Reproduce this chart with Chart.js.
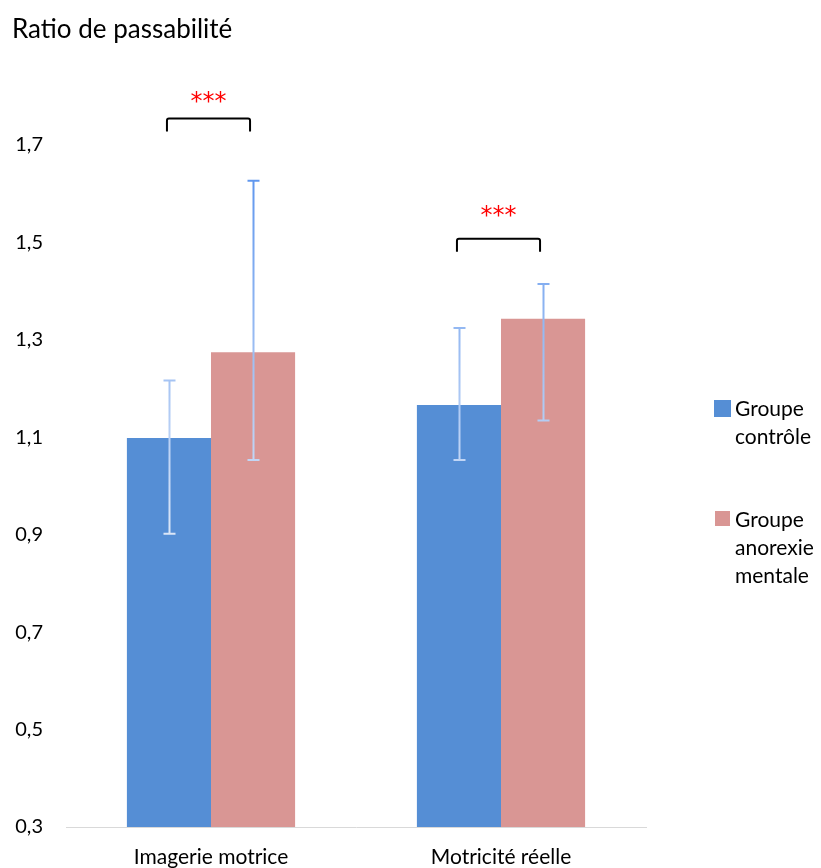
<!DOCTYPE html>
<html>
<head>
<meta charset="utf-8">
<script src="https://cdn.jsdelivr.net/npm/chart.js@4"></script>
<style>
  html, body { margin: 0; padding: 0; background: #fff; }
  #wrap { width: 821px; height: 868px; }
</style>
</head>
<body>
<div id="wrap"><canvas id="myChart" width="821" height="868"></canvas></div>
<script>
const categories = ['Imagerie motrice', 'Motricité réelle'];
const seriesNames = [['Groupe', 'contrôle'], ['Groupe', 'anorexie', 'mentale']];
const controlValues = [1.098, 1.166];
const anorexiaValues = [1.274, 1.343];
const controlUpper = [1.216, 1.324];
const controlLower = [0.902, 1.053];
const anorexiaUpper = [1.626, 1.414];
const anorexiaLower = [1.053, 1.134];
const yTicks = [0.3, 0.5, 0.7, 0.9, 1.1, 1.3, 1.5, 1.7];
const bracketLevels = [1.754, 1.507];
const starLevels = [1.797, 1.563];

const FONT = 'Lato';

// error bars with a blue -> white gradient, like the original
const errorBarsPlugin = {
    id: 'errorBars',
    afterDatasetsDraw(chart) {
        const ctx = chart.ctx;
        const y = chart.scales.y;
        const grad = ctx.createLinearGradient(0, 170, 0, 560);
        grad.addColorStop(0, '#5d95ee');
        grad.addColorStop(1, '#e4ecf8');
        const bounds = [[controlUpper, controlLower], [anorexiaUpper, anorexiaLower]];
        ctx.save();
        ctx.strokeStyle = grad;
        ctx.lineWidth = 2;
        chart.data.datasets.forEach((ds, di) => {
            const meta = chart.getDatasetMeta(di);
            meta.data.forEach((bar, i) => {
                const x = Math.round(bar.x) + 0.5;
                const top = y.getPixelForValue(bounds[di][0][i]);
                const bottom = y.getPixelForValue(bounds[di][1][i]);
                ctx.beginPath();
                ctx.moveTo(x, top);
                ctx.lineTo(x, bottom);
                ctx.moveTo(x - 6, top);
                ctx.lineTo(x + 6, top);
                ctx.moveTo(x - 6, bottom);
                ctx.lineTo(x + 6, bottom);
                ctx.stroke();
            });
        });
        ctx.restore();
    }
};

// significance brackets, title and the wrapped legend
const extrasPlugin = {
    id: 'extras',
    afterDraw(chart) {
        const ctx = chart.ctx;
        const y = chart.scales.y;
        const m0 = chart.getDatasetMeta(0);
        const m1 = chart.getDatasetMeta(1);
        ctx.save();

        categories.forEach((c, i) => {
            const left = m0.data[i].x - 2;
            const right = m1.data[i].x - 3;
            const top = y.getPixelForValue(bracketLevels[i]);
            ctx.strokeStyle = '#000';
            ctx.lineWidth = 2;
            ctx.lineJoin = 'round';
            ctx.beginPath();
            ctx.moveTo(left, top + 13);
            ctx.lineTo(left, top + 2);
            ctx.quadraticCurveTo(left, top, left + 2, top);
            ctx.lineTo(right - 2, top);
            ctx.quadraticCurveTo(right, top, right, top + 2);
            ctx.lineTo(right, top + 13);
            ctx.stroke();

            ctx.fillStyle = '#ff0000';
            ctx.font = '24px "DejaVu Sans"';
            ctx.textAlign = 'center';
            ctx.textBaseline = 'middle';
            ctx.fillText('***', (left + right) / 2, y.getPixelForValue(starLevels[i]) + 5);
        });

        ctx.fillStyle = '#000';
        ctx.font = `26px ${FONT}`;
        ctx.textAlign = 'left';
        ctx.textBaseline = 'middle';
        ctx.fillText('Ratio de passabilité', 12, 30);

        const legendTops = [400, 511];
        const legendBox = [17, 15];
        chart.data.datasets.forEach((ds, di) => {
            const top = legendTops[di];
            ctx.fillStyle = ds.backgroundColor;
            ctx.fillRect(714 + (17 - legendBox[di]) / 2, top, legendBox[di], legendBox[di]);
            ctx.fillStyle = '#000';
            ctx.font = `21px ${FONT}`;
            seriesNames[di].forEach((line, li) => {
                ctx.fillText(line, 735, top + 9 + li * 28);
            });
        });
        ctx.restore();
    }
};

new Chart(document.getElementById('myChart'), {
    type: 'bar',
    data: {
        labels: categories,
        datasets: [
            {
                label: seriesNames[0].join(' '),
                data: controlValues,
                backgroundColor: '#558ed5',
                categoryPercentage: 0.58,
                barPercentage: 1
            },
            {
                label: seriesNames[1].join(' '),
                data: anorexiaValues,
                backgroundColor: '#d99694',
                categoryPercentage: 0.58,
                barPercentage: 1
            }
        ]
    },
    options: {
        responsive: false,
        animation: false,
        layout: { padding: { top: 96, right: 175, left: 0, bottom: 0 } },
        plugins: {
            legend: { display: false },
            tooltip: { enabled: false }
        },
        scales: {
            x: {
                grid: { display: false, drawTicks: false },
                border: { display: true, color: '#d9d9d9', width: 1 },
                ticks: { color: '#000', font: { family: FONT, size: 21 }, padding: 18 },
                afterFit(scale) { scale.height = 41; }
            },
            y: {
                min: 0.3,
                max: 1.8,
                grid: { display: false, drawTicks: false },
                border: { display: false },
                afterBuildTicks(scale) {
                    scale.ticks = yTicks.map(v => ({ value: v }));
                },
                ticks: {
                    color: '#000',
                    font: { family: FONT, size: 20 },
                    padding: 23,
                    callback: v => v.toFixed(1).replace('.', ',')
                },
                afterFit(scale) { scale.width = 66; }
            }
        }
    },
    plugins: [errorBarsPlugin, extrasPlugin]
});
</script>
</body>
</html>
